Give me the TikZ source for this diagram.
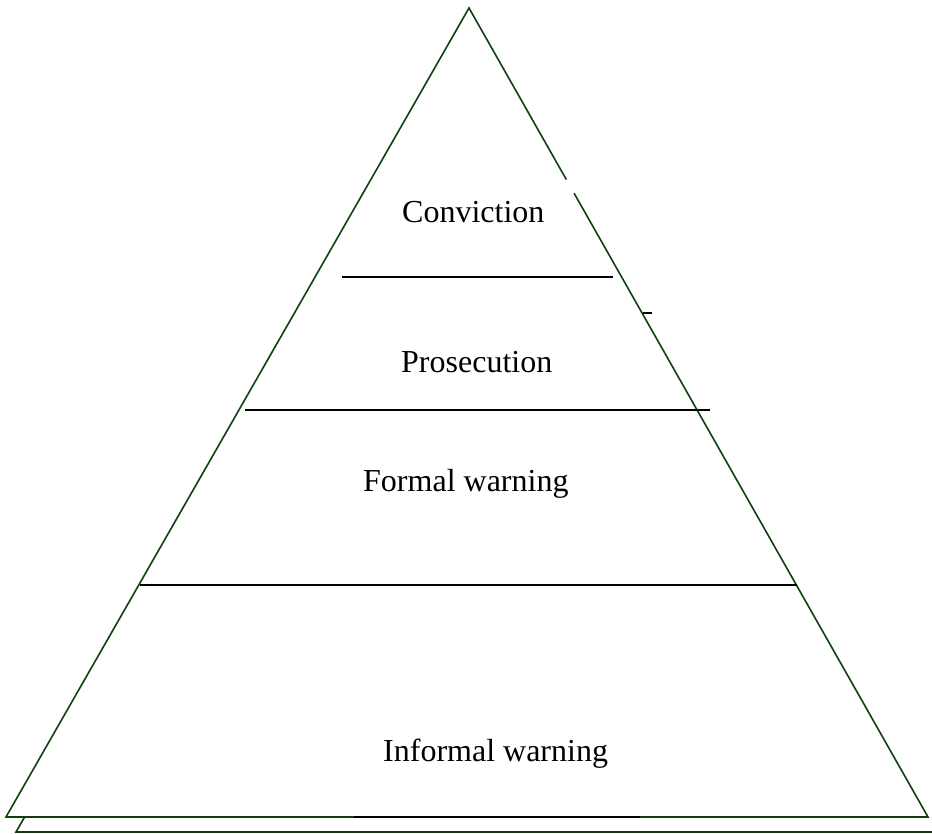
\documentclass[tikz,border=0pt]{standalone}
\usepackage{fontspec}
\setmainfont{Liberation Serif}
\usetikzlibrary{positioning,calc}
\definecolor{edgegreen}{RGB}{16,64,16}

\begin{document}
\begin{tikzpicture}[
  x=1pt,y=-1pt,
  side/.style={draw=edgegreen,line width=1.6pt,line join=miter},
  tier/.style={draw=black,line width=1.4pt},
  label/.style={font=\fontsize{32}{38}\selectfont,anchor=base west,inner sep=0pt}
]
  \useasboundingbox (0,0) rectangle (932,834);
  \coordinate (apex) at (469,8);
  \coordinate (left) at (6,817);
  \coordinate (right) at (928,817);
  \coordinate (shadowleft) at (16,832);

  % shadow edge below the pyramid
  \draw[side] ($(left)!0.019!(apex)+(10,15)$) -- (shadowleft) -- (932,832);
  \draw[side] ($(apex)!0.212!(right)$) -- (apex) -- (left) -- (right)
    -- ($(apex)!0.229!(right)$);

  \draw[tier] (342,277) -- (613,277);
  \draw[tier,line width=2pt] (342,277) -- (381,277) (574,277) -- (613,277);
  \draw[tier] (245,410) -- (710,410);
  \draw[tier] (140,585) -- (797,585);
  \draw[tier] (643,313) -- (652,313);
  \draw[tier,line width=1.8pt] (354,817) -- (640,817);

  \node[label] (conviction) at (402,223) {Conviction};
  \node[label] (prosecution) at (401,373) {Prosecution};
  \node[label] (formal) at (363,491) {Formal warning};
  \node[label] (informal) at (383,761) {Informal warning};
\end{tikzpicture}
\end{document}
